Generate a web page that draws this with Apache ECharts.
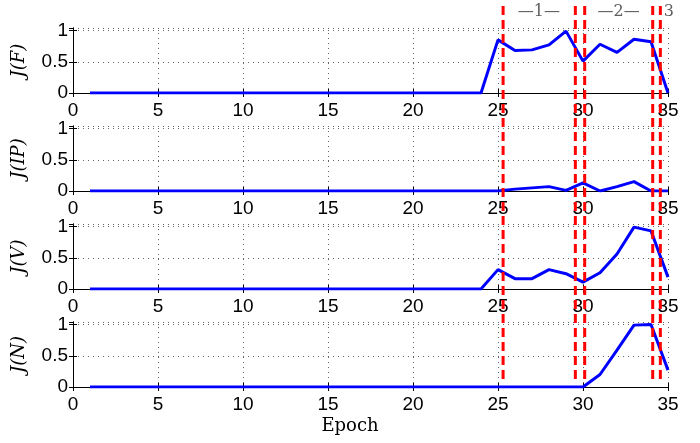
<!DOCTYPE html>
<html>
<head>
<meta charset="utf-8">
<script src="https://cdn.jsdelivr.net/npm/echarts@6/dist/echarts.min.js"></script>
<style>
  html, body { margin: 0; padding: 0; background: #fff; }
  #main { width: 700px; height: 443px; }
</style>
</head>
<body>
<div id="main"></div>
<script>
let myChart = echarts.init(document.getElementById('main'))

// epochs 1..35
const epochs = [1, 2, 3, 4, 5, 6, 7, 8, 9, 10, 11, 12, 13, 14, 15, 16, 17, 18,
    19, 20, 21, 22, 23, 24, 25, 26, 27, 28, 29, 30, 31, 32, 33, 34, 35]

// J(F)
const jF = [0, 0, 0, 0, 0, 0, 0, 0, 0, 0, 0, 0, 0, 0, 0, 0, 0, 0,
    0, 0, 0, 0, 0, 0, 0.85, 0.68, 0.69, 0.77, 0.99, 0.51, 0.78, 0.65, 0.86, 0.82, 0]
// J(IP)
const jIP = [0, 0, 0, 0, 0, 0, 0, 0, 0, 0, 0, 0, 0, 0, 0, 0, 0, 0,
    0, 0, 0, 0, 0, 0, 0, 0.03, 0.05, 0.07, 0.01, 0.13, 0, 0.07, 0.15, 0, 0]
// J(V)
const jV = [0, 0, 0, 0, 0, 0, 0, 0, 0, 0, 0, 0, 0, 0, 0, 0, 0, 0,
    0, 0, 0, 0, 0, 0, 0.31, 0.165, 0.165, 0.31, 0.245, 0.11, 0.26, 0.56, 0.99, 0.93, 0.19]
// J(N)
const jN = [0, 0, 0, 0, 0, 0, 0, 0, 0, 0, 0, 0, 0, 0, 0, 0, 0, 0,
    0, 0, 0, 0, 0, 0, 0, 0, 0, 0, 0, 0, 0.2, 0.59, 0.99, 1.0, 0.27]

const panelNames = ['J(F)', 'J(IP)', 'J(V)', 'J(N)']
const panelData = [jF, jIP, jV, jN]

// red dashed markers (epoch)
const markers = [25.3, 29.55, 30.1, 34.1, 34.55]
const phaseLabels = ['—1—', '—2—', '3']
const phasePos = [27.4, 32.1, 35.05]

const xTicks = [0, 5, 10, 15, 20, 25, 30, 35]
const yTicks = [0, 0.5, 1]

const panelTops = [28, 126, 224, 322]
const panelHeight = 65

const grids = []
const xAxes = []
const yAxes = []
const series = []

const dotted = { color: '#666', width: 1, type: [1, 4] }
const labelFont = { fontSize: 19, color: '#000', fontFamily: 'Liberation Sans' }

panelNames.forEach((name, i) => {
    grids.push({ left: 73, right: 32, top: panelTops[i], height: panelHeight })
    xAxes.push({
        gridIndex: i, type: 'value', min: 0, max: 35, interval: 5,
        axisLine: { lineStyle: { color: '#000', width: 1 } },
        axisTick: { inside: true, length: 4, lineStyle: { color: '#000' } },
        axisLabel: Object.assign({ margin: 8, formatter: v => xTicks.includes(v) ? String(v) : '' }, labelFont),
        splitLine: { show: true, lineStyle: dotted }
    })
    xAxes.push({
        gridIndex: i, type: 'value', min: 0, max: 35, interval: 5, position: 'top',
        axisLine: { lineStyle: { color: '#000', width: 1 } },
        axisTick: { inside: true, length: 4, lineStyle: { color: '#000' } },
        axisLabel: { show: false },
        splitLine: { show: false }
    })
    yAxes.push({
        gridIndex: i, type: 'value', min: 0, max: 1.04, interval: 0.5,
        name: name, nameLocation: 'middle', nameGap: 45, nameRotate: 90,
        nameTextStyle: { fontFamily: 'DejaVu Serif', fontStyle: 'italic', fontSize: 18, color: '#000' },
        axisLine: { show: true, lineStyle: { color: '#000', width: 1 } },
        axisTick: { show: true, inside: true, length: 4, lineStyle: { color: '#000' } },
        axisLabel: Object.assign({ margin: 5, showMaxLabel: false, formatter: v => yTicks.includes(v) ? String(v) : '' }, labelFont),
        splitLine: { show: true, lineStyle: dotted }
    })
    yAxes.push({
        gridIndex: i, type: 'value', min: 0, max: 1.04, interval: 0.5, position: 'right',
        axisLine: { show: true, lineStyle: { color: '#000', width: 1 } },
        axisTick: { show: true, inside: true, length: 4, lineStyle: { color: '#000' } },
        axisLabel: { show: false },
        splitLine: { show: false }
    })
    series.push({
        type: 'line',
        xAxisIndex: i * 2,
        yAxisIndex: i * 2,
        data: epochs.map((e, k) => [e, panelData[i][k]]),
        showSymbol: false,
        lineStyle: { color: '#0000ff', width: 3 },
        z: 3
    })
})

// overlay grid for the red markers and phase labels (one extra epoch of room on the right)
grids.push({ left: 73, right: 15, top: 4, bottom: 64 })
xAxes.push({ gridIndex: 4, type: 'value', min: 0, max: 36, show: false })
yAxes.push({ gridIndex: 4, type: 'value', min: 0, max: 1, show: false })
const ov = 8

markers.forEach(m => {
    series.push({
        type: 'line',
        xAxisIndex: ov, yAxisIndex: ov,
        data: [[m, 0], [m, 1]],
        showSymbol: false,
        lineStyle: { color: '#ff0000', width: 3, type: [9, 5] },
        z: 10
    })
})

series.push({
    type: 'scatter',
    xAxisIndex: ov, yAxisIndex: ov,
    symbolSize: 0,
    data: phaseLabels.map((t, k) => ({ name: t, value: [phasePos[k], 0.978] })),
    label: {
        show: true, position: 'inside', formatter: p => p.name,
        fontFamily: 'DejaVu Serif', fontSize: 16, color: '#333'
    },
    z: 11
})

let option = {
    animation: false,
    backgroundColor: '#fff',
    grid: grids,
    xAxis: xAxes,
    yAxis: yAxes,
    series: series,
    graphic: [{
        type: 'text',
        left: 'center',
        top: 417,
        style: { text: 'Epoch', font: '18px "DejaVu Serif"', fill: '#000' }
    }]
}

myChart.setOption(option)
</script>
</body>
</html>
